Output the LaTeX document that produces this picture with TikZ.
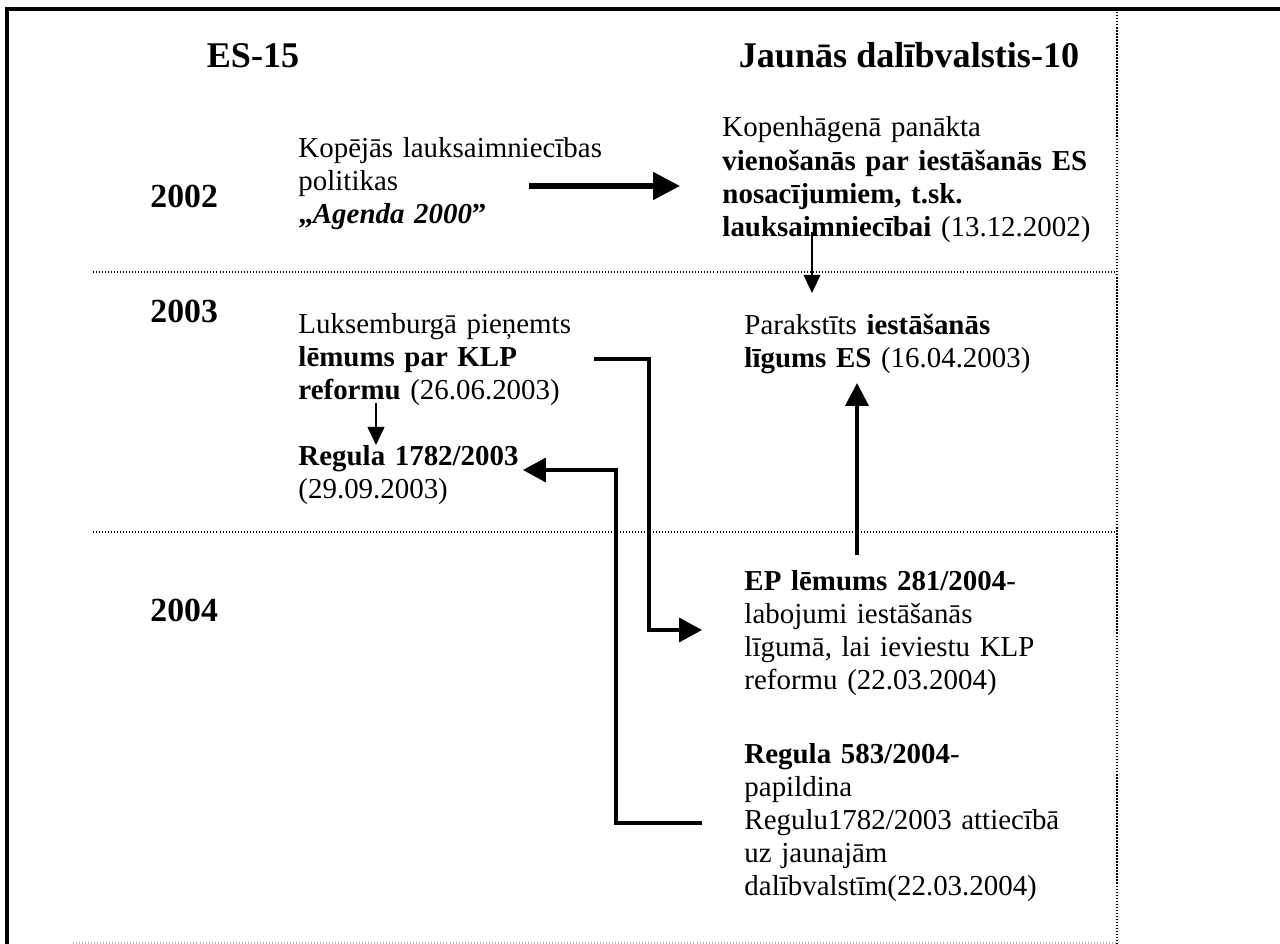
\documentclass[tikz,border=0pt]{standalone}
\usepackage{fontspec}
\setmainfont{Liberation Serif}
\usetikzlibrary{arrows.meta, calc}

\begin{document}
\begin{tikzpicture}[
        x=0.415pt, y=-0.415pt,
        body/.style={anchor=base west, inner sep=0pt, text width=165pt,
                    align=left, font=\fontsize{12}{13.7}\selectfont},
        year/.style={anchor=base west, inner sep=0pt, font=\fontsize{14}{16}\selectfont\bfseries},
        head/.style={anchor=base, inner sep=0pt, font=\fontsize{15}{18}\selectfont\bfseries},
        grid/.style={line width=0.45pt, dash pattern=on 0.4pt off 0.85pt},
        fatarrow/.style={-{Triangle[length=11.2pt, width=11.2pt]}, line width=2.1pt},
        thinarrow/.style={-{Triangle[length=7.5pt, width=7pt]}, line width=0.6pt},
        link/.style={-{Triangle[length=9.5pt, width=10pt]}, line width=1.25pt},
        uparrow/.style={-{Triangle[length=9.5pt, width=9.5pt]}, line width=1.7pt}
      ]
        \useasboundingbox (0,0) rectangle (1280,944);
        \draw[line width=1.25pt] (7,944) -- (7,9) -- (1280,9);
        \draw[line width=0.6pt, dash pattern=on 0.6pt off 0.65pt] (1117,12) -- (1117,944);
        \draw[grid] (93,272) -- (1116,272);
        \draw[grid] (93,532) -- (1116,532);
        \draw[grid, black!30] (73,943) -- (1116,943);

        \node[head] (oldms) at (253,67) {ES-15};
        \node[head] (newms) at (909,67) {Jaunās dalībvalstis-10};
        \node[year] (y2002) at (150,207) {2002};
        \node[year] (y2003) at (150,322) {2003};
        \node[year] (y2004) at (150,621) {2004};

        \node[body] (agenda) at (298,157) {Kopējās lauksaimniecības\\ politikas\\ \textbf{„\textit{Agenda 2000}”}};
        \node[body] (copen) at (722,137) {Kopenhāgenā panākta\\ \textbf{vienošanās par iestāšanās ES}\\ \textbf{nosacījumiem, t.sk.}\\ \textbf{lauksaimniecībai} (13.12.2002)};
        \node[body] (accsign) at (744,334) {Parakstīts \textbf{iestāšanās}\\ \textbf{līgums ES} (16.04.2003)};
        \node[body] (luxdec) at (298,333) {Luksemburgā pieņemts\\ \textbf{lēmums par KLP}\\ \textbf{reformu} (26.06.2003)};
        \node[body] (reg1782) at (298,465) {\textbf{Regula 1782/2003}\\ (29.09.2003)};
        \node[body] (epdec) at (744,590) {\textbf{EP lēmums 281/2004}-\\ labojumi iestāšanās\\ līgumā, lai ieviestu KLP\\ reformu (22.03.2004)};
        \node[body] (reg583) at (744,763) {\textbf{Regula 583/2004}-\\ papildina\\ Regulu1782/2003 attiecībā\\ uz jaunajām\\ dalībvalstīm(22.03.2004)};

        \draw[fatarrow] ($(agenda.base west)+(231,29)$) -- ($(copen.base west)+(-42,49)$);
        \draw[thinarrow] ($(copen.base west)+(90,95)$) -- ($(accsign.base west)+(68,-41)$);
        \draw[thinarrow] ($(luxdec.base west)+(78,70)$) -- ($(reg1782.base west)+(78,-20)$);
        \draw[uparrow] ($(epdec.base west)+(113,-35)$) -- ($(accsign.base west)+(113,49)$);
        \draw[link] ($(luxdec.base west)+(296,26)$) -| ($(epdec.base west)+(-95,40)$) -- ($(epdec.base west)+(-42,40)$);
        \draw[link] ($(reg583.base west)+(-42,60)$) -| ($(reg1782.base west)+(318,5)$) -- ($(reg1782.base west)+(225,5)$);
      \end{tikzpicture}
\end{document}
